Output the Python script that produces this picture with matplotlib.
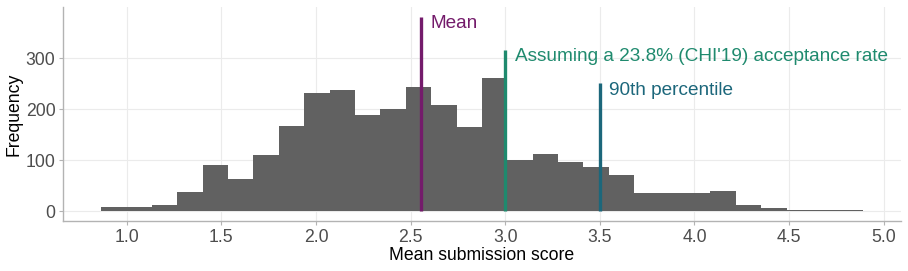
import numpy as np
import matplotlib
matplotlib.use("Agg")
import matplotlib.pyplot as plt

# ------------------------------
# Datos
# ------------------------------
bin_start = 0.8645
bin_width = 0.13415
counts = [8, 8, 12, 37, 90, 64, 111, 168, 232, 238,
          189, 201, 244, 209, 166, 262, 101, 113, 97, 86,
          72, 35, 35, 35, 39, 13, 7, 3, 2, 2]

mean_score = 2.553
accept_score = 3.0
p90_score = 3.5
line_tops = [381, 316, 252]
labels = ["Mean", "Assuming a 23.8% (CHI'19) acceptance rate", "90th percentile"]
label_y = [367, 304, 236]
colores = ["#741b6b", "#1f8a6e", "#1c677b"]

edges = bin_start + bin_width * np.arange(len(counts) + 1)
centros = (edges[:-1] + edges[1:]) / 2

plt.rcParams["font.family"] = ["Liberation Sans", "DejaVu Sans"]

fig = plt.figure(figsize=(9.08, 2.71), dpi=100)
ax = fig.add_axes([0.0694, 0.1845, 0.9226, 0.7895])

ax.hist(centros, bins=edges, weights=counts, color="#616161", zorder=2)

xs = [mean_score, accept_score, p90_score]
for x, top, lab, ly, c in zip(xs, line_tops, labels, label_y, colores):
    ax.plot([x, x], [0, top], color=c, lw=2.4, solid_capstyle="butt", zorder=3)
    ax.text(x + 0.05, ly, lab, color=c, fontsize=13.7, va="center", ha="left", zorder=4)

ax.set_xlim(0.663, 5.09)
ax.set_ylim(-19, 400)
ax.set_xticks([1.0, 1.5, 2.0, 2.5, 3.0, 3.5, 4.0, 4.5, 5.0])
ax.set_yticks([0, 100, 200, 300])
ax.grid(True, color="#ebebeb", lw=0.8, zorder=0)
ax.set_axisbelow(True)

for s in ["top", "right"]:
    ax.spines[s].set_visible(False)
for s in ["left", "bottom"]:
    ax.spines[s].set_color("#b3b3b3")
    ax.spines[s].set_linewidth(1.0)

ax.tick_params(colors="#b3b3b3", labelcolor="#4d4d4d", labelsize=12.7, length=3, width=0.8, pad=2.5)
ax.set_xlabel("Mean submission score", fontsize=12.7, labelpad=1)
ax.set_ylabel("Frequency", fontsize=12.7, labelpad=2)

fig.savefig("out.png", dpi=100)
